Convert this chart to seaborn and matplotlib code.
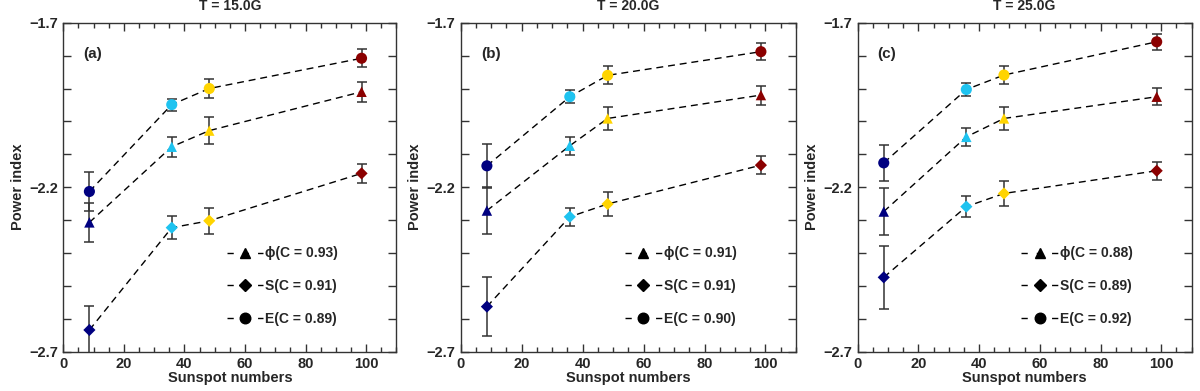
import matplotlib
matplotlib.use("Agg")
import matplotlib.pyplot as plt
from matplotlib.lines import Line2D
from matplotlib.ticker import MultipleLocator, FixedLocator
import numpy as np
import pandas as pd
import seaborn as sns


# data
#-----------------------------------
sunspots = [8.6, 35.8, 48.2, 98.5]
point_colors = ["#000080", "#1ec3f0", "#ffd400", "#8b0000"]

titles = ["T = 15.0G", "T = 20.0G", "T = 25.0G"]
panel_tags = ["(a)", "(b)", "(c)"]

# power index for phi (triangle), S (diamond), E (circle)
phi_vals = [[-2.307, -2.077, -2.028, -1.910],
            [-2.271, -2.074, -1.991, -1.920],
            [-2.274, -2.047, -1.991, -1.925]]
phi_err = [[0.060, 0.030, 0.040, 0.030],
           [0.071, 0.028, 0.036, 0.029],
           [0.072, 0.028, 0.034, 0.026]]

s_vals = [[-2.634, -2.323, -2.302, -2.158],
          [-2.563, -2.290, -2.251, -2.133],
          [-2.474, -2.259, -2.219, -2.150]]
s_err = [[0.074, 0.035, 0.040, 0.028],
         [0.090, 0.028, 0.035, 0.027],
         [0.096, 0.033, 0.037, 0.027]]

e_vals = [[-2.213, -1.949, -1.900, -1.808],
          [-2.135, -1.925, -1.860, -1.788],
          [-2.126, -1.903, -1.859, -1.758]]
e_err = [[0.060, 0.018, 0.028, 0.028],
         [0.067, 0.020, 0.027, 0.025],
         [0.054, 0.019, 0.028, 0.025]]

corr_phi = ["0.93", "0.91", "0.88"]
corr_s = ["0.91", "0.91", "0.89"]
corr_e = ["0.89", "0.90", "0.92"]


sns.set_style("ticks")
plt.rcParams['font.family'] = ['Liberation Sans', 'DejaVu Sans']
plt.rcParams['font.weight'] = 'bold'
plt.rcParams['axes.labelweight'] = 'bold'
plt.rcParams['axes.titleweight'] = 'bold'

fig = plt.figure(figsize=(12, 3.91), dpi=100)
lefts = [0.0528, 0.3839, 0.7147]
widths = [0.2775, 0.2794, 0.2783]

dash = (0, (5, 3.5))
legend_dash = (0, (4.5, 6.5))  # "- marker -" look in the legend
series_info = [("^", phi_vals, phi_err, corr_phi, "\u03d5", 7.5),
               ("D", s_vals, s_err, corr_s, "S", 6.2),
               ("o", e_vals, e_err, corr_e, "E", 8.0)]

for p in range(3):
    ax = fig.add_axes([lefts[p], 0.1005, widths[p], 0.8414])
    handles = []
    for marker, vals, errs, corr, name, ms in series_info:
        df = pd.DataFrame({"x": sunspots, "y": vals[p], "err": errs[p],
                           "pos": [0, 1, 2, 3]})
        sns.lineplot(data=df, x="x", y="y", color="black", lw=1.0,
                     linestyle=dash, ax=ax, zorder=1)
        ax.errorbar(df["x"], df["y"], yerr=df["err"], fmt="none",
                    ecolor="#333333", elinewidth=1.1, capsize=3.5,
                    capthick=1.1, zorder=2)
        sns.scatterplot(data=df, x="x", y="y", hue="pos", palette=point_colors,
                        marker=marker, s=ms**2, edgecolor="none", legend=False,
                        ax=ax, zorder=3)
        handles.append(Line2D([0], [0], color="black", lw=1.0,
                              linestyle=legend_dash,
                              marker=marker, markersize=ms * 0.95,
                              markerfacecolor="black", markeredgecolor="black",
                              label=f"{name}(C = {corr[p]})"))

    ax.set_xlim(0, 110)
    ax.set_ylim(-2.7, -1.7)
    ax.xaxis.set_major_locator(MultipleLocator(20))
    ax.xaxis.set_minor_locator(MultipleLocator(5))
    ax.yaxis.set_major_locator(FixedLocator([-2.7, -2.2, -1.7]))
    ax.yaxis.set_minor_locator(FixedLocator([-2.6, -2.5, -2.4, -2.3, -2.1,
                                             -2.0, -1.9, -1.8]))
    ax.set_xticks([0, 20, 40, 60, 80, 100])
    ax.set_yticklabels(["\u22122.7", "\u22122.2", "\u22121.7"])
    ax.tick_params(which="both", direction="in", top=True, right=True,
                   labelsize=10.5, width=1, color="#333333")
    ax.tick_params(which="major", length=6, pad=4)
    ax.tick_params(axis="y", which="minor", length=6)
    ax.tick_params(axis="x", which="minor", length=3.5)
    for sp in ax.spines.values():
        sp.set_linewidth(1.0)
        sp.set_color("#333333")

    ax.set_xlabel("Sunspot numbers", fontsize=10.5, labelpad=0)
    ax.set_ylabel("Power index", fontsize=10.5, labelpad=3)
    ax.set_title(titles[p], fontsize=10, pad=9)
    ax.text(0.06, 0.905, panel_tags[p], transform=ax.transAxes,
            fontsize=11, fontweight="bold", va="center")

    ax.legend(handles=handles, loc="upper left", bbox_to_anchor=(0.49, 0.32),
              frameon=False, fontsize=10, handlelength=2.65, handletextpad=0.15,
              labelspacing=1.35, borderpad=0, borderaxespad=0)

fig.savefig("out.png", dpi=100)
